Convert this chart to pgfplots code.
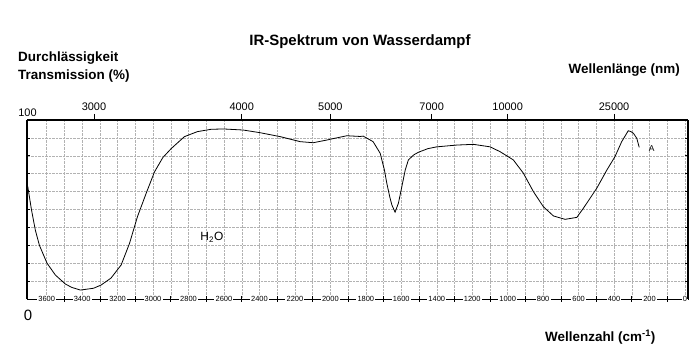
\documentclass[border=0pt]{standalone}
\usepackage{fontspec}
\setmainfont{Liberation Sans}
\usepackage{pgfplots}
\pgfplotsset{compat=1.18}
\begin{document}
\begin{tikzpicture}
\path[use as bounding box] (0,0) rectangle (700bp,363bp);
\begin{axis}[
 at={(27bp,64bp)}, anchor=south west, scale only axis,
 width=661bp, height=179bp,
 x dir=reverse, xmin=-17, xmax=3711, ymin=0, ymax=100,
 xtick={0,200,...,3600},
 xticklabels={0,200,400,600,800,1000,1200,1400,1600,1800,2000,2200,2400,2600,2800,3000,3200,3400,3600},
 minor xtick={100,300,...,3500},
 ytick={0,10,...,100}, yticklabels={,,},
 xtick pos=bottom, ytick pos=both,
 tick align=inside,
 major x tick style={draw=none},
 minor x tick style={yshift=-3bp, black, line width=0.6bp},
 minor tick length=6bp,
 major tick length=3bp,
 y tick style={black, line width=0.6bp},
 grid=both,
 major grid style={densely dotted, gray!60, line width=0.4bp},
 minor grid style={densely dotted, gray!60, line width=0.4bp},
 axis line style={line width=0.8bp},
 xticklabel style={font=\fontsize{7.5}{8}\selectfont, anchor=center, fill=white, inner sep=1.2bp},
]
\addplot[black, line width=0.8bp] coordinates {
(3707,63) (3686,50) (3664,38.5) (3641,30) (3598,20) (3551,13.4) (3495,8.4)
(3459,6.5) (3410,5) (3336,6) (3293,7.8) (3237,11.7) (3180,19) (3133,31)
(3088,46) (3039,59) (2992,71) (2945,79) (2898,84) (2823,90.7) (2750,93.5)
(2673,94.8) (2604,95) (2492,94.4) (2396,92.9) (2283,90.7) (2170,87.9)
(2097,87.3) (2020,88.8) (1984,89.6) (1907,91.2) (1832,90.8) (1815,91)
(1759,87.9) (1719,81.4) (1695,72) (1682,64.8) (1665,57) (1653,52.5)
(1635,48.5) (1616,53.6) (1597,62.7) (1578,72) (1560,77.7) (1530,80.5)
(1503,82) (1450,84) (1400,85) (1287,86) (1193,86.4) (1099,85) (1043,82.3)
(968,77.7) (911,70.2) (855,60) (799,51.6) (742,46.4) (676,44.5) (610,45.6)
(573,50.7) (498,61.8) (441,72) (395,79.5) (357,87.9) (320,94) (305,93.5)
(291,92.6) (272,89.8) (258,84.7)
};
\node[font=\fontsize{12}{14}\selectfont] at (axis cs:2668,34.6) {H\textsubscript{2}O};
\node[font=\fontsize{8.5}{10}\selectfont] at (axis cs:188,84) {A};
\end{axis}
\begin{axis}[
 at={(27bp,64bp)}, anchor=south west, scale only axis,
 width=661bp, height=179bp,
 x dir=reverse, xmin=-17, xmax=3711, ymin=0, ymax=100,
 axis x line*=top, axis y line*=box,
 ytick=\empty,
 xtick={3333.33,2500,2000,1428.57,1000,400},
 xticklabels={3000,4000,5000,7000,10000,25000},
 tick align=outside, major tick length=6bp,
 axis line style={-, line width=1.6bp},
 x tick style={black, line width=0.8bp},
 xticklabel style={font=\fontsize{11}{13}\selectfont},
]
\end{axis}
\node[font=\bfseries\fontsize{15}{17}\selectfont] at (360bp,321bp) {IR-Spektrum von Wasserdampf};
\node[font=\bfseries\fontsize{13.5}{15}\selectfont, anchor=west, inner sep=0pt] at (18bp,305bp) {Durchlässigkeit};
\node[font=\bfseries\fontsize{13.5}{15}\selectfont, anchor=west, inner sep=0pt] at (18bp,287bp) {Transmission (\%)};
\node[font=\bfseries\fontsize{13.5}{15}\selectfont, anchor=east, inner sep=0pt] at (680bp,293bp) {Wellenlänge (nm)};
\node[font=\bfseries\fontsize{13.5}{15}\selectfont, anchor=west, inner sep=0pt] at (545bp,26bp) {Wellenzahl (cm\textsuperscript{-1})};
\node[font=\fontsize{11}{13}\selectfont] at (27.5bp,250bp) {100};
\node[font=\fontsize{15}{17}\selectfont] at (28bp,48bp) {0};
\end{tikzpicture}
\end{document}
